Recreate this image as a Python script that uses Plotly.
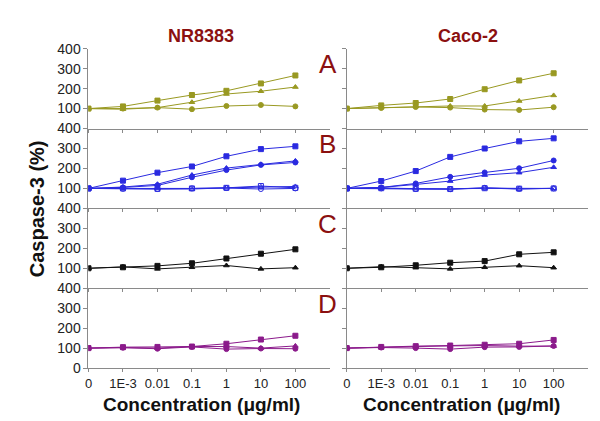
import plotly.graph_objects as go

# ---- data ----
conc_labels = ["0", "1E-3", "0.01", "0.1", "1", "10", "100"]
x_idx = list(range(len(conc_labels)))

# Panel A (olive)
a_left_sq = [100, 111, 140, 168, 189, 226, 266]
a_left_tri = [100, 97, 105, 132, 173, 187, 208]
a_left_circ = [100, 100, 105, 97, 113, 118, 111]
a_right_sq = [100, 116, 128, 148, 197, 241, 277]
a_right_tri = [100, 105, 111, 113, 113, 138, 166]
a_right_circ = [100, 103, 108, 105, 95, 93, 107]

# Panel B (blue)
b_left_sq = [100, 139, 179, 210, 261, 297, 311]
b_left_tri = [100, 107, 121, 167, 202, 221, 238]
b_left_circ = [100, 105, 115, 156, 192, 218, 230]
b_left_osq = [100, 100, 98, 100, 103, 112, 103]
b_left_otri = [100, 100, 100, 97, 103, 108, 110]
b_left_ocirc = [100, 98, 97, 100, 102, 97, 100]
b_right_sq = [100, 137, 187, 258, 300, 336, 351]
b_right_tri = [100, 105, 120, 137, 167, 179, 206]
b_right_circ = [100, 105, 125, 158, 180, 201, 240]
b_right_osq = [100, 101, 98, 97, 101, 99, 100]
b_right_otri = [100, 102, 99, 98, 102, 97, 101]
b_right_ocirc = [100, 100, 97, 96, 103, 98, 100]

# Panel C (black)
c_left_sq = [100, 105, 112, 125, 149, 173, 195]
c_left_tri = [100, 107, 97, 105, 114, 97, 103]
c_right_sq = [100, 105, 115, 128, 136, 170, 180]
c_right_tri = [100, 108, 103, 97, 105, 113, 103]

# Panel D (purple)
d_left_sq = [100, 105, 106, 108, 122, 143, 162]
d_left_circ = [100, 102, 97, 106, 95, 98, 97]
d_left_tri = [100, 103, 100, 108, 108, 100, 111]
d_right_sq = [100, 106, 110, 113, 117, 122, 141]
d_right_circ = [100, 103, 100, 95, 105, 106, 111]
d_right_tri = [100, 105, 108, 111, 113, 110, 110]

panel_letters = ["A", "B", "C", "D"]
col_titles = ["NR8383", "Caco-2"]

OLIVE = "#999922"
BLUE = "#2a2ae0"
BLACK = "#111111"
PURPLE = "#8b1a8b"
DARKRED = "#8b1010"
AXC = "#8a8a8a"

panels = [
    (OLIVE,
     [(a_left_sq, "square"), (a_left_tri, "triangle-up"), (a_left_circ, "circle")],
     [(a_right_sq, "square"), (a_right_tri, "triangle-up"), (a_right_circ, "circle")]),
    (BLUE,
     [(b_left_sq, "square"), (b_left_tri, "triangle-up"), (b_left_circ, "circle"),
      (b_left_osq, "square-open"), (b_left_otri, "triangle-up-open"), (b_left_ocirc, "circle-open")],
     [(b_right_sq, "square"), (b_right_tri, "triangle-up"), (b_right_circ, "circle"),
      (b_right_osq, "square-open"), (b_right_otri, "triangle-up-open"), (b_right_ocirc, "circle-open")]),
    (BLACK,
     [(c_left_sq, "square"), (c_left_tri, "triangle-up")],
     [(c_right_sq, "square"), (c_right_tri, "triangle-up")]),
    (PURPLE,
     [(d_left_sq, "square"), (d_left_circ, "circle"), (d_left_tri, "triangle-up")],
     [(d_right_sq, "square"), (d_right_circ, "circle"), (d_right_tri, "triangle-up")]),
]

W, H = 600, 421
x_dom = [(77 / W, 320 / W), (337 / W, 580 / W)]
tops = [34, 117, 200, 283]
ph = 83
FONT = "Liberation Sans, Arial"

fig = go.Figure()
layout = {}
for i, (color, left, right) in enumerate(panels):
    top = tops[i]
    y_dom = (1 - (top + ph) / H, 1 - top / H)
    for c, series in enumerate([left, right]):
        n = i * 2 + c + 1
        xs = "" if n == 1 else str(n)
        for vals, sym in series:
            fig.add_trace(go.Scatter(
                x=x_idx, y=vals, mode="lines+markers",
                line=dict(color=color, width=1),
                marker=dict(symbol=sym, size=5, color=color,
                            line=dict(color=color, width=1)),
                xaxis="x" + xs, yaxis="y" + xs, showlegend=False,
                hoverinfo="skip"))
        last = (i == 3)
        layout["xaxis" + xs] = dict(
            domain=list(x_dom[c]), anchor="y" + xs, range=[0, 7],
            tickmode="array", tickvals=x_idx, ticktext=conc_labels,
            showticklabels=last, ticks="outside", ticklen=3,
            tickcolor=AXC, showline=True, linecolor=AXC, linewidth=1,
            showgrid=False, zeroline=False,
            tickfont=dict(family=FONT, size=13, color="#222"))
        tv = [0, 100, 200, 300, 400] if last else [100, 200, 300, 400]
        layout["yaxis" + xs] = dict(
            domain=list(y_dom), anchor="x" + xs, range=[0, 400],
            tickmode="array", tickvals=tv, ticktext=[str(v) for v in tv],
            showticklabels=(c == 0), ticks="outside", ticklen=4,
            tickcolor=AXC, showline=True, linecolor=AXC, linewidth=1,
            showgrid=False, zeroline=False,
            tickfont=dict(family=FONT, size=14, color="#222"))

annotations = []
for c, t in enumerate(col_titles):
    annotations.append(dict(
        text="<b>%s</b>" % t, x=[190, 459][c] / W, y=1 - 21 / H,
        xref="paper", yref="paper", showarrow=False,
        xanchor="center", yanchor="middle",
        font=dict(family=FONT, size=18, color=DARKRED)))
    annotations.append(dict(
        text="<b>Concentration (μg/ml)</b>", x=[191, 453][c] / W, y=1 - 404 / H,
        xref="paper", yref="paper", showarrow=False,
        xanchor="center", yanchor="middle",
        font=dict(family=FONT, size=19, color="#111")))
for i, L in enumerate(panel_letters):
    annotations.append(dict(
        text=L, x=318 / W, y=1 - (tops[i] + 16) / H,
        xref="paper", yref="paper", showarrow=False,
        xanchor="center", yanchor="middle",
        font=dict(family=FONT, size=26, color=DARKRED)))
annotations.append(dict(
    text="<b>Caspase-3 (%)</b>", x=26 / W, y=1 - 200 / H,
    xref="paper", yref="paper", showarrow=False, textangle=-90,
    xanchor="center", yanchor="middle",
    font=dict(family=FONT, size=20, color="#111")))

fig.update_layout(
    width=W, height=H, margin=dict(l=0, r=0, t=0, b=0),
    paper_bgcolor="white", plot_bgcolor="white",
    annotations=annotations, showlegend=False, **layout)

fig.write_html("out.html")
